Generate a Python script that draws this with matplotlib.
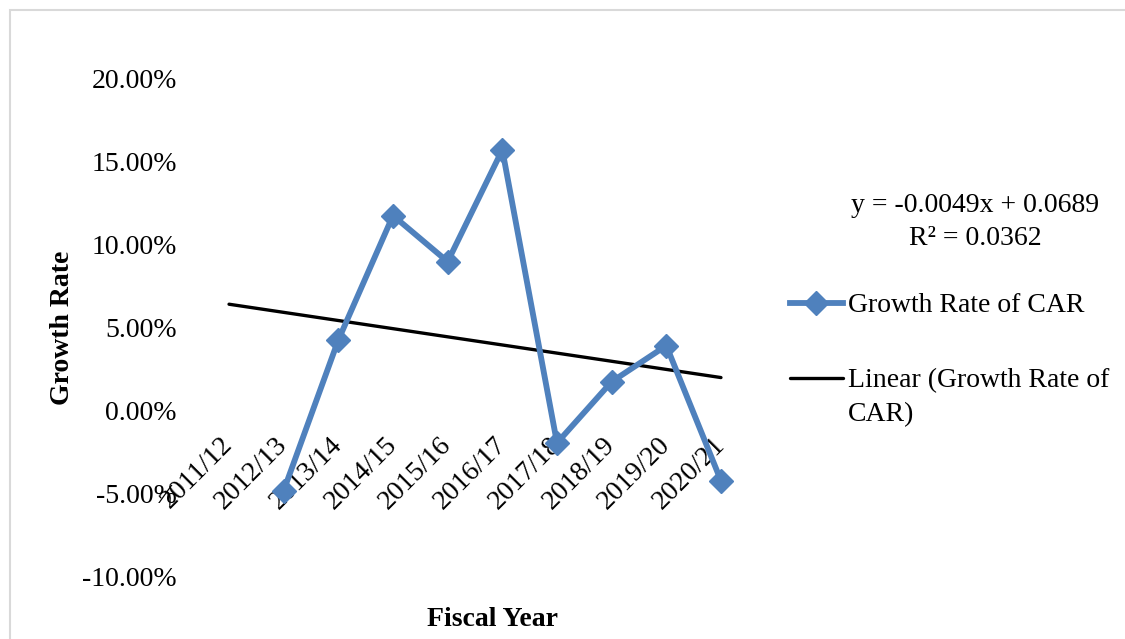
import numpy as np
import matplotlib
matplotlib.use("Agg")
import matplotlib.pyplot as plt
from matplotlib.ticker import PercentFormatter, FixedLocator
from matplotlib.patches import Rectangle

years = ['2011/12', '2012/13', '2013/14', '2014/15', '2015/16',
         '2016/17', '2017/18', '2018/19', '2019/20', '2020/21']
growth_rate = [np.nan, -0.0480, 0.0425, 0.1173, 0.0896,
               0.1568, -0.0194, 0.0174, 0.0391, -0.0421]
trend_slope = -0.0049
trend_intercept = 0.0689
r_squared = 0.0362
y_ticks = [-0.10, -0.05, 0.0, 0.05, 0.10, 0.15, 0.20]

plt.rcParams['font.family'] = ['Liberation Serif', 'DejaVu Serif']
plt.rcParams['axes.unicode_minus'] = False

W, H = 1125, 639
fig = plt.figure(figsize=(W / 100, H / 100), dpi=100)
ax = fig.add_axes([201.7 / W, 62 / H, 546.6 / W, 499 / H])

x = np.arange(len(years))
blue = '#4F81BD'
ax.plot(x, growth_rate, color=blue, lw=4.2, marker='D', markersize=12,
        label='Growth Rate of CAR', zorder=3)

# linear trendline from the fitted equation (Excel x runs 1..n)
xt = np.arange(1, len(years) + 1)
trend = trend_slope * xt + trend_intercept
ax.plot(x, trend, color='black', lw=2.4, solid_capstyle='round',
        label='Linear (Growth Rate of', zorder=2)

ax.set_xlim(-0.5, len(years) - 0.5)
ax.set_ylim(-0.10, 0.20)
ax.yaxis.set_major_locator(FixedLocator(y_ticks))
ax.yaxis.set_major_formatter(PercentFormatter(1.0, decimals=2))

for s in ['top', 'right', 'left', 'bottom']:
    ax.spines[s].set_visible(False)
ax.spines['bottom'].set_position(('data', 0))

ax.set_xticks(x)
ax.set_xticklabels(years, rotation=45, ha='right', va='center',
                   rotation_mode='anchor')
ax.tick_params(axis='x', length=0, pad=22, labelsize=20)
ax.tick_params(axis='y', length=0, pad=18, labelsize=20)

ax.set_ylabel('Growth Rate', fontsize=20, fontweight='bold', va='center')
ax.yaxis.set_label_coords((62 - 201.7) / 546.6, 0.5)
ax.set_xlabel('Fiscal Year', fontsize=20, fontweight='bold', va='center')
ax.xaxis.set_label_coords((493 - 201.7) / 546.6, (20 - 62) / 499)

leg = ax.legend(loc='upper left', bbox_to_anchor=(790 / W, 1 - 293 / H),
                bbox_transform=fig.transFigure, frameon=False, fontsize=20,
                handlelength=1.9, handletextpad=0.18, labelspacing=1.78,
                borderpad=0, borderaxespad=0)

# wrapped second line of the trendline legend entry
fig.canvas.draw()
bb = leg.get_texts()[1].get_window_extent()
fig.text(bb.x0 / W, (bb.y0 + bb.y1) / 2 / H - 34 / H, 'CAR)',
         ha='left', va='center', fontsize=20)

fig.text(975 / W, 1 - 222 / H,
         f'y = {trend_slope:.4f}x + {trend_intercept:.4f}\nR\u00b2 = {r_squared:.4f}',
         ha='center', va='center', multialignment='center', fontsize=20,
         linespacing=1.38)

# chart area border
fig.patches.append(Rectangle((10 / W, -0.2), 1.2, 1.2 - 10 / H,
                             transform=fig.transFigure, fill=False,
                             edgecolor='#D9D9D9', lw=1.5))

fig.savefig('out.png', dpi=100)
